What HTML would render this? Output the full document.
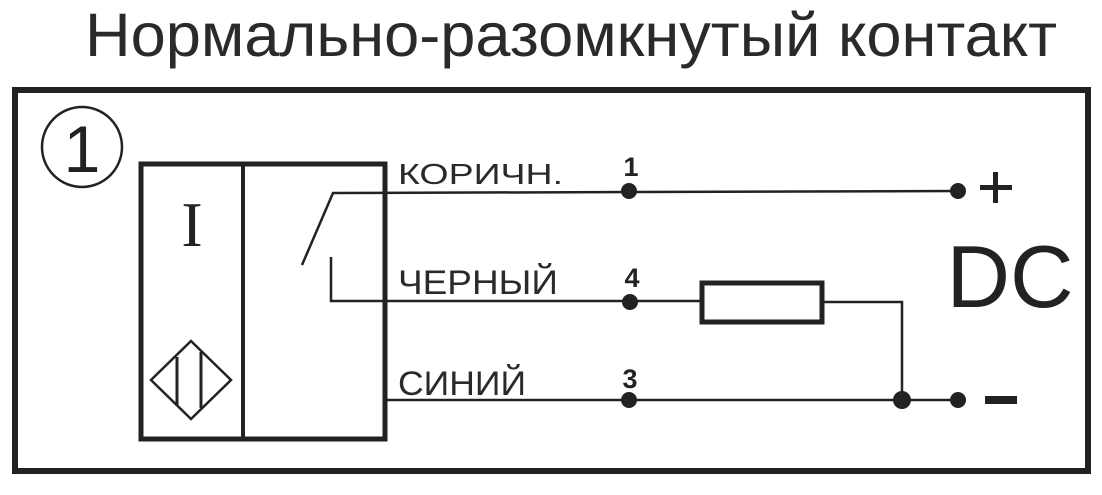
<!DOCTYPE html>
<html><head><meta charset="utf-8"><style>
html,body{margin:0;padding:0;background:#fff;}
svg{display:block;}
</style></head><body>
<svg width="1102" height="495" viewBox="0 0 1102 495" xmlns="http://www.w3.org/2000/svg" font-family="Liberation Sans, DejaVu Sans, sans-serif">
<text x="571" y="56" font-size="61" text-anchor="middle" fill="#2a2a2a" textLength="972" lengthAdjust="spacingAndGlyphs">Нормально-разомкнутый контакт</text>
<rect x="15" y="90" width="1073" height="381" fill="none" stroke="#222" stroke-width="6"/>
<circle cx="82" cy="147" r="40" fill="none" stroke="#222" stroke-width="2.5"/>
<text x="82" y="172" font-size="66" text-anchor="middle" fill="#222">1</text>
<rect x="141" y="164" width="244" height="275" fill="none" stroke="#222" stroke-width="5"/>
<line x1="243" y1="164" x2="243" y2="439" stroke="#222" stroke-width="4"/>
<text x="192" y="246" font-family="Liberation Serif, serif" font-size="64" text-anchor="middle" fill="#222">I</text>
<polygon points="191,341 231,380 191,419 151,380" fill="none" stroke="#222" stroke-width="2.5"/>
<line x1="177" y1="357" x2="177" y2="405" stroke="#222" stroke-width="3"/>
<line x1="201" y1="352" x2="201" y2="408" stroke="#222" stroke-width="3"/>
<g stroke="#222" stroke-width="2.5" fill="none">
<polyline points="302,265 333,193 958,191"/>
<polyline points="331,257 331,301 702,301"/>
<polyline points="822,302 902,302 902,400"/>
<line x1="386" y1="400" x2="958" y2="400"/>
</g>
<rect x="702" y="283" width="120" height="39" fill="none" stroke="#222" stroke-width="5"/>
<g fill="#222">
<circle cx="629" cy="191" r="8"/><circle cx="958" cy="191" r="8"/>
<circle cx="630" cy="302" r="8"/>
<circle cx="629" cy="400" r="8"/><circle cx="902" cy="400" r="9"/><circle cx="958" cy="400" r="8"/>
<rect x="985" y="396" width="32" height="8"/>
<rect x="980" y="185" width="32" height="5"/><rect x="993" y="172" width="5" height="31"/>
</g>
<g fill="#2a2a2a">
<text x="398" y="184" font-size="29" textLength="165" lengthAdjust="spacingAndGlyphs">КОРИЧН.</text>
<text x="398" y="294" font-size="34" textLength="160" lengthAdjust="spacingAndGlyphs">ЧЕРНЫЙ</text>
<text x="398" y="395" font-size="34" textLength="128" lengthAdjust="spacingAndGlyphs">СИНИЙ</text>
</g>
<g font-size="27" font-weight="bold" fill="#222" text-anchor="middle">
<text x="631" y="176">1</text>
<text x="632" y="287">4</text>
<text x="630" y="388">3</text>
</g>
<text x="1010" y="307" font-size="88" text-anchor="middle" fill="#222">DC</text>
</svg>
</body></html>
